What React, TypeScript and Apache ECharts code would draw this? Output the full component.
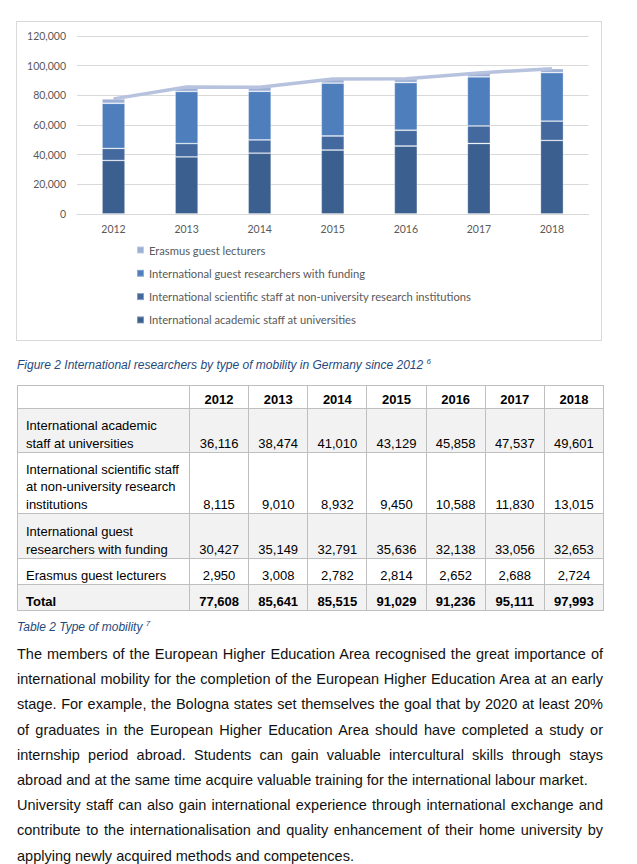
import React, { useEffect, useRef } from "react";
import * as echarts from "echarts";

const years = ["2012", "2013", "2014", "2015", "2016", "2017", "2018"];
const academicStaff = [36116, 38474, 41010, 43129, 45858, 47537, 49601];
const scientificStaff = [8115, 9010, 8932, 9450, 10588, 11830, 13015];
const guestResearchers = [30427, 35149, 32791, 35636, 32138, 33056, 32653];
const erasmusLecturers = [2950, 3008, 2782, 2814, 2652, 2688, 2724];
const totals = [77608, 85641, 85515, 91029, 91236, 95111, 97993];

const nameAcademic = "International academic staff at universities";
const nameScientific = "International scientific staff at non-university research institutions";
const nameGuest = "International guest researchers with funding";
const nameErasmus = "Erasmus guest lecturers";

const tableLabels = [
  "International academic\nstaff at universities",
  "International scientific staff\nat non-university research\ninstitutions",
  "International guest\nresearchers with funding",
  "Erasmus guest lecturers",
];
const tableRows = [academicStaff, scientificStaff, guestResearchers, erasmusLecturers];
const totalLabel = "Total";

const figureCaption = "Figure 2 International researchers by type of mobility in Germany since 2012";
const figureNote = "6";
const tableCaption = "Table 2 Type of mobility";
const tableNote = "7";

const paragraphLines = [
  "The members of the European Higher Education Area recognised the great importance of",
  "international mobility for the completion of the European Higher Education Area at an early",
  "stage. For example, the Bologna states set themselves the goal that by 2020 at least 20%",
  "of graduates in the European Higher Education Area should have completed a study or",
  "internship period abroad. Students can gain valuable intercultural skills through stays",
  "abroad and at the same time acquire valuable training for the international labour market.",
  "University staff can also gain international experience through international exchange and",
  "contribute to the internationalisation and quality enhancement of their home university by",
  "applying newly acquired methods and competences.",
];
const justifiedLines = [true, true, true, true, true, false, true, true, false];

const fmt = (v: number) => v.toLocaleString("en-US");

const rowHeights = [23, 44, 61, 45, 26, 26];
const shaded = [false, true, false, true, false, true];

export default function App() {
  const ref = useRef<HTMLDivElement>(null);

  useEffect(() => {
    const chart = echarts.init(ref.current!, null, { renderer: "svg" });
    const barBase = {
      type: "bar",
      stack: "total",
      barWidth: 23,
      itemStyle: { borderColor: "rgba(255,255,255,0.35)", borderWidth: 0.8 },
    };
    chart.setOption({
      animation: false,
      textStyle: { fontFamily: "Lato" },
      grid: { left: 60, right: 12.5, top: 14, bottom: 126 },
      legend: {
        orient: "vertical",
        left: 119,
        top: 221,
        padding: 0,
        itemWidth: 7,
        itemHeight: 7,
        itemGap: 9.3,
        icon: "rect",
        textStyle: { color: "#595959", fontSize: 11.2, lineHeight: 14, fontFamily: "Lato" },
        data: [nameErasmus, nameGuest, nameScientific, nameAcademic],
      },
      xAxis: {
        type: "category",
        data: years,
        axisLine: { lineStyle: { color: "#d9d9d9" } },
        axisTick: { show: false },
        axisLabel: { color: "#595959", fontSize: 10.5, margin: 9 },
      },
      yAxis: {
        type: "value",
        min: 0,
        max: 120000,
        interval: 20000,
        axisLine: { show: false },
        axisTick: { show: false },
        splitLine: { lineStyle: { color: "#d9d9d9" } },
        axisLabel: { color: "#595959", fontSize: 10.5, margin: 11, formatter: (v: number) => fmt(v) },
      },
      series: [
        { ...barBase, name: nameAcademic, data: academicStaff, itemStyle: { ...barBase.itemStyle, color: "#3b5f8e" } },
        { ...barBase, name: nameScientific, data: scientificStaff, itemStyle: { ...barBase.itemStyle, color: "#44699f" } },
        { ...barBase, name: nameGuest, data: guestResearchers, itemStyle: { ...barBase.itemStyle, color: "#4e7fbc" } },
        { ...barBase, name: nameErasmus, data: erasmusLecturers, itemStyle: { ...barBase.itemStyle, color: "#9cafd5" } },
        {
          type: "line",
          name: "Total",
          data: totals,
          symbol: "none",
          z: 5,
          silent: true,
          lineStyle: { color: "#b6c2de", width: 3.5 },
        },
      ],
    });
    return () => chart.dispose();
  }, []);

  const cellBorder = "1px solid #bfbfbf";
  const colW = (603 - 189) / 7;

  return (
    <div
      style={{
        position: "fixed",
        left: 0,
        top: 0,
        width: 637,
        height: 864,
        background: "#ffffff",
        overflow: "hidden",
        fontFamily: "'Liberation Sans', Arial, sans-serif",
        color: "#000",
      }}
    >
      <div
        style={{
          position: "absolute",
          left: 16,
          top: 21,
          width: 586,
          height: 320,
          boxSizing: "border-box",
          border: "1px solid #d9d9d9",
        }}
      >
        <div ref={ref} style={{ width: 584, height: 318 }} />
      </div>

      <div
        style={{
          position: "absolute",
          left: 17,
          top: 354,
          fontSize: 12,
          lineHeight: "16px",
          fontStyle: "italic",
          color: "#1f497d",
          whiteSpace: "nowrap",
        }}
      >
        {figureCaption} <sup style={{ fontSize: 8, verticalAlign: "5px" }}>{figureNote}</sup>
      </div>

      <table
        style={{
          position: "absolute",
          left: 17,
          top: 385,
          width: 586,
          borderCollapse: "collapse",
          tableLayout: "fixed",
          fontSize: 13,
          lineHeight: "17.5px",
        }}
      >
        <colgroup>
          <col style={{ width: 172 }} />
          {years.map((y) => (
            <col key={y} style={{ width: colW }} />
          ))}
        </colgroup>
        <tbody>
          <tr style={{ height: rowHeights[0] }}>
            <td style={{ border: cellBorder, padding: 0 }} />
            {years.map((y) => (
              <td
                key={y}
                style={{ border: cellBorder, padding: "2px 0 0 0", textAlign: "center", fontWeight: "bold", verticalAlign: "bottom" }}
              >
                {y}
              </td>
            ))}
          </tr>
          {tableRows.map((row, i) => (
            <tr key={i} style={{ height: rowHeights[i + 1], background: shaded[i + 1] ? "#f2f2f2" : "#ffffff" }}>
              <td
                style={{
                  border: cellBorder,
                  padding: "0 0 0 8px",
                  whiteSpace: "pre-line",
                  verticalAlign: "bottom",
                }}
              >
                {tableLabels[i]}
              </td>
              {row.map((v, j) => (
                <td key={j} style={{ border: cellBorder, padding: 0, textAlign: "center", verticalAlign: "bottom" }}>
                  {fmt(v)}
                </td>
              ))}
            </tr>
          ))}
          <tr style={{ height: rowHeights[5], background: "#f2f2f2", fontWeight: "bold" }}>
            <td style={{ border: cellBorder, padding: "0 0 0 8px", verticalAlign: "bottom" }}>{totalLabel}</td>
            {totals.map((v, j) => (
              <td key={j} style={{ border: cellBorder, padding: 0, textAlign: "center", verticalAlign: "bottom" }}>
                {fmt(v)}
              </td>
            ))}
          </tr>
        </tbody>
      </table>

      <div
        style={{
          position: "absolute",
          left: 17,
          top: 616,
          fontSize: 12,
          lineHeight: "16px",
          fontStyle: "italic",
          color: "#1f497d",
          whiteSpace: "nowrap",
        }}
      >
        {tableCaption} <sup style={{ fontSize: 8, verticalAlign: "5px" }}>{tableNote}</sup>
      </div>

      <div
        style={{
          position: "absolute",
          left: 17,
          top: 642,
          width: 586,
          fontSize: 14.5,
          lineHeight: "25.2px",
          color: "#111",
        }}
      >
        {paragraphLines.map((line, i) => (
          <div
            key={i}
            style={{
              textAlign: justifiedLines[i] ? "justify" : "left",
              textAlignLast: justifiedLines[i] ? "justify" : "left",
              height: 25.2,
              whiteSpace: "nowrap",
            }}
          >
            {line}
          </div>
        ))}
      </div>
    </div>
  );
}
